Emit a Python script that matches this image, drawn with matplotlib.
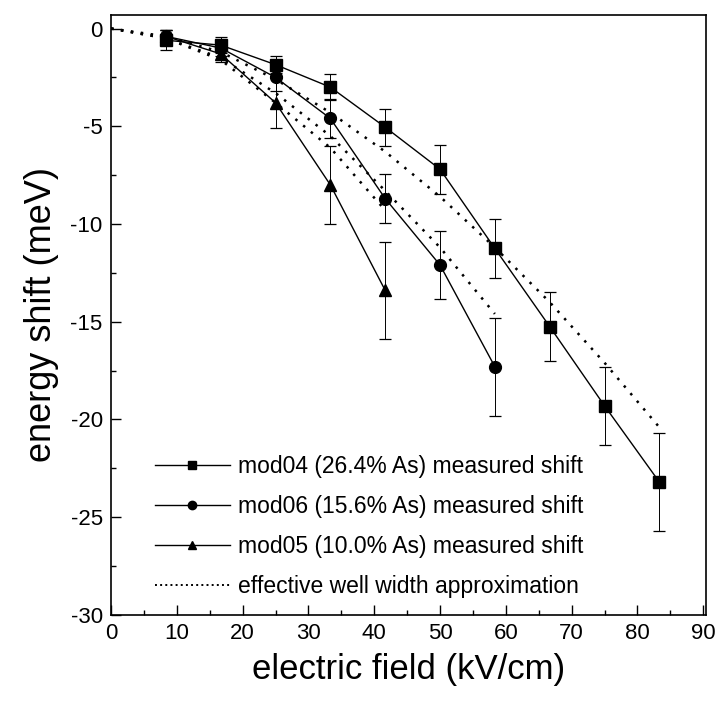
import numpy as np
import matplotlib
matplotlib.use("Agg")
import matplotlib.pyplot as plt
from matplotlib.ticker import MultipleLocator

plt.rcParams['font.family'] = ['Liberation Sans', 'DejaVu Sans']
plt.rcParams['axes.unicode_minus'] = False

# electric field points (kV/cm)
field = [8.33, 16.67, 25.0, 33.33, 41.67, 50.0, 58.33, 66.67, 75.0, 83.33]

# measured shifts (meV) and error bars
mod04 = [-0.6, -0.85, -1.85, -3.0, -5.05, -7.2, -11.25, -15.25, -19.3, -23.2]
mod04_err = [0.5, 0.4, 0.45, 0.65, 0.95, 1.25, 1.5, 1.75, 2.0, 2.5]
mod06 = [-0.4, -1.0, -2.5, -4.6, -8.7, -12.1, -17.3]
mod06_err = [0.3, 0.4, 0.7, 1.0, 1.25, 1.75, 2.5]
mod05 = [-0.4, -1.3, -3.8, -8.0, -13.4]
mod05_err = [0.3, 0.4, 1.3, 2.0, 2.5]

# effective well width approximation curves
model_x = [0.0] + field
model04 = [0.0, -0.4, -1.2, -2.6, -4.3, -6.3, -8.6, -11.2, -14.0, -17.1, -20.4]
model06 = [0.0, -0.5, -1.5, -3.3, -5.5, -8.3, -11.2, -14.6]
model05 = [0.0, -0.5, -1.6, -3.8, -6.1, -9.3]

labels = ["mod04 (26.4% As) measured shift",
          "mod06 (15.6% As) measured shift",
          "mod05 (10.0% As) measured shift",
          "effective well width approximation"]

fig = plt.figure(figsize=(7.21, 7.06), dpi=100)
ax = fig.add_axes([0.154, 0.129, 0.825, 0.850])

ekw = dict(ecolor='black', elinewidth=0.7, capsize=4.5, capthick=0.9)
dots = (0, (1, 3))

ax.plot(model_x[:len(model05)], model05, ls=dots, color='black', lw=1.8)
ax.plot(model_x[:len(model06)], model06, ls=dots, color='black', lw=1.8)
ax.plot(model_x, model04, ls=dots, color='black', lw=1.8)

ax.errorbar(field, mod04, yerr=mod04_err, fmt='s-', color='black',
            ms=8.5, lw=1.0, **ekw)
ax.errorbar(field[:len(mod06)], mod06, yerr=mod06_err, fmt='o-',
            color='black', ms=8.5, lw=1.0, **ekw)
ax.errorbar(field[:len(mod05)], mod05, yerr=mod05_err, fmt='^-',
            color='black', ms=8.5, lw=1.0, **ekw)

# legend handles: small markers on a line
h1, = ax.plot([], [], 's-', color='black', ms=6, lw=1.0)
h2, = ax.plot([], [], 'o-', color='black', ms=6, lw=1.0)
h3, = ax.plot([], [], '^-', color='black', ms=6, lw=1.0)
h4, = ax.plot([], [], ':', color='black', lw=1.4)
ax.legend([h1, h2, h3, h4], labels, loc='lower left', frameon=False,
          fontsize=16.5, handlelength=3.3, handletextpad=0.35,
          labelspacing=0.75, bbox_to_anchor=(0.05, 0.005),
          borderaxespad=0.2)

ax.set_xlim(0, 90.4)
ax.set_ylim(-30, 0.7)
ax.xaxis.set_major_locator(MultipleLocator(10))
ax.xaxis.set_minor_locator(MultipleLocator(5))
ax.yaxis.set_major_locator(MultipleLocator(5))
ax.yaxis.set_minor_locator(MultipleLocator(2.5))
ax.tick_params(which='both', direction='in', top=False, right=False,
               labelsize=16, width=1.0)
ax.tick_params(which='major', length=7, pad=6)
ax.tick_params(which='minor', length=3.5)
for s in ax.spines.values():
    s.set_linewidth(1.2)

ax.set_xlabel("electric field (kV/cm)", fontsize=25, labelpad=6)
ax.set_ylabel("energy shift (meV)", fontsize=26, labelpad=8)

fig.savefig("out.png", dpi=100)
